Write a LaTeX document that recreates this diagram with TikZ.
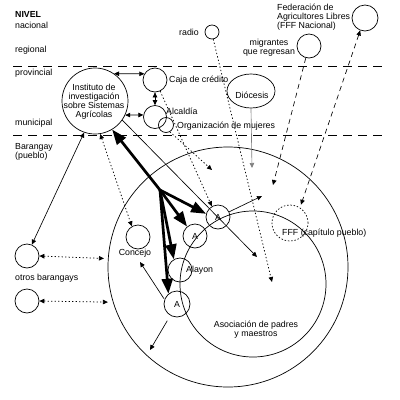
\documentclass[tikz,border=0pt]{standalone}
\usepackage{fontspec}
\setmainfont{Liberation Sans}
\usetikzlibrary{arrows.meta,shapes.geometric}
\begin{document}
\begin{tikzpicture}[x=1pt,y=-1pt,
  circ/.style={circle,draw,line width=.7pt,inner sep=0pt,minimum size=#1},
  lbl/.style={font=\fontsize{8.8}{9.3}\selectfont,inner sep=0pt},
  conn/.style={line width=.65pt,-{Triangle[length=5pt,width=4.5pt]}},
  dbl/.style={line width=.65pt,{Triangle[length=5pt,width=4.5pt]}-{Triangle[length=5pt,width=4.5pt]}},
  dots/.style={line width=.75pt,dash pattern=on 1.3pt off 2.2pt},
  dsh/.style={dash pattern=on 5pt off 4pt},
  lvl/.style={line width=.65pt,dash pattern=on 9pt off 6pt},
  bigarr/.style={line width=2.7pt,line join=round,-{Triangle[length=15pt,width=11pt]}}]
\useasboundingbox (0,0) rectangle (400,400);

% level labels
\node[lbl,anchor=west,font=\fontsize{8.8}{9.3}\selectfont\bfseries] (lNivel) at (15,14) {NIVEL};
\node[lbl,anchor=west] (lNac) at (15,25.5) {nacional};
\node[lbl,anchor=west] (lReg) at (15,50) {regional};
\node[lbl,anchor=west] (lProv) at (15,73) {provincial};
\node[lbl,anchor=west] (lMun) at (15,123) {municipal};
\node[lbl,anchor=west,align=left] (lBar) at (15,152) {Barangay\\(pueblo)};
\node[lbl,anchor=west] (lOtros) at (15,278.5) {otros barangays};

% level lines
\coordinate (L1a) at (13,66); \coordinate (L1b) at (386,66);
\coordinate (L2a) at (13,135); \coordinate (L2b) at (386,135);
\draw[lvl] (L1a) -- (L1b);
\draw[lvl] (L2a) -- (L2b);

% big circles
\node[circ=240pt] (big) at (228,267) {};
\node[circ=146pt] (apm) at (253,284) {};
\node[lbl,align=center] (lAPM) at (256,330) {Asociación de padres\\y maestros};

% upper nodes
\node[circ=66pt] (inst) at (95,101) {};
\node[lbl,align=center,font=\fontsize{8.8}{8.9}\selectfont] (lInst) at (94,102) {Instituto de\\investigación\\sobre Sistemas\\Agrícolas};
\node[circ=24pt] (caja) at (155,80) {};
\node[lbl,anchor=west] (lCaja) at (169,80.5) {Caja de crédito};
\node[circ=23pt] (alc) at (155,117) {};
\node[circ=15pt] (org) at (166,125) {};
\node[lbl,anchor=west] (lAlc) at (166,111.5) {Alcaldía};
\node[lbl,anchor=west] (lOrg) at (177,126.5) {Organización de mujeres};
\node[circ=14pt] (radio) at (212,32) {};
\node[lbl] (lRadio) at (189,32) {radio};
\node[circ=24pt] (migr) at (309,46) {};
\node[lbl,align=center] (lMigr) at (269,47.5) {migrantes\\que regresan};
\node[circ=26pt] (fffn) at (365,18) {};
\node[lbl,align=left,anchor=west] (lFed) at (277,17) {Federación de\\Agricultores Libres\\(FFF Nacional)};
\node[ellipse,draw,line width=.7pt,minimum width=48pt,minimum height=34pt,inner sep=0pt] (dio) at (251,91) {};
\node[lbl] (lDio) at (252,95) {Diócesis};

% barangay nodes
\node[circ=24pt,font=\fontsize{8.8}{9.3}\selectfont] (a1) at (218,217) {A};
\node[circ=24pt,font=\fontsize{8.8}{9.3}\selectfont] (a2) at (195,236) {A};
\node[circ=24pt] (alay) at (180,270) {};
\node[lbl,anchor=west] (lAlay) at (186,270) {Alayon};
\node[circ=26pt,font=\fontsize{8.8}{9.3}\selectfont] (a3) at (177,304) {A};
\node[circ=24pt] (conc) at (138,237) {};
\node[lbl] (lConc) at (135,253) {Concejo};
\node[circ=36pt,dash pattern=on 1.5pt off 1.8pt] (fffc) at (290,223) {};
\node[lbl,anchor=west] (lFFFc) at (282,233) {FFF (capítulo pueblo)};
\node[circ=24pt] (brg) at (27,256) {};
\node[circ=24pt] (otros) at (27,301) {};

% free ends
\coordinate (J) at (160,190);
\coordinate (e1) at (257,257);
\coordinate (e2) at (262,196);
\coordinate (e3) at (212,170);
\coordinate (rEnd) at (272,282);
\coordinate (dEnd) at (252,168);
\coordinate (mEnd) at (273,185);
\coordinate (cEnd) at (140,262);
\coordinate (sEnd) at (150,350);

% solid connectors
\draw[dbl] (inst.55) -- (caja.150);
\draw[dbl] (inst.-25) -- (alc.170);
\draw[dbl] (caja.south) -- (alc.north);
\draw[dbl] (inst.-109) -- (brg.67);
\draw[conn] (inst.-35) -- (e1);
\draw[conn] (a1.25) -- (e2);
\draw[conn,shorten <=1pt] (a3.160) -- (cEnd);
\draw[conn,shorten <=6pt] (a3.-120) -- (sEnd);
\draw[conn,gray] (dio.south) -- (dEnd);

% dotted connectors
\draw[dbl,dots] (inst.-81) -- (conc.120);
\draw[conn,dots] (caja.-65) -- (a1.120);
\draw[conn,dots] (org.-60) -- (e3);
\draw[conn,dots] (radio.-80) -- (rEnd);
\draw[dbl,dots,shorten >=4pt] (brg.east) -- (big.176);
\draw[dbl,dots,shorten >=5pt] (otros.east) -- (big.197);

% dashed connectors
\draw[conn,dsh] (migr.-105) -- (mEnd);
\draw[dbl,dsh,shorten >=3pt] (fffn.-111) -- (fffc.57);

% thick arrows
\draw[bigarr] (J) -- (inst.-59);
\draw[bigarr] (J) -- (a1.165);
\draw[bigarr] (J) -- (a2.130);
\draw[bigarr] (J) -- (alay.120);
\draw[bigarr] (J) -- (a3.130);
\end{tikzpicture}
\end{document}
